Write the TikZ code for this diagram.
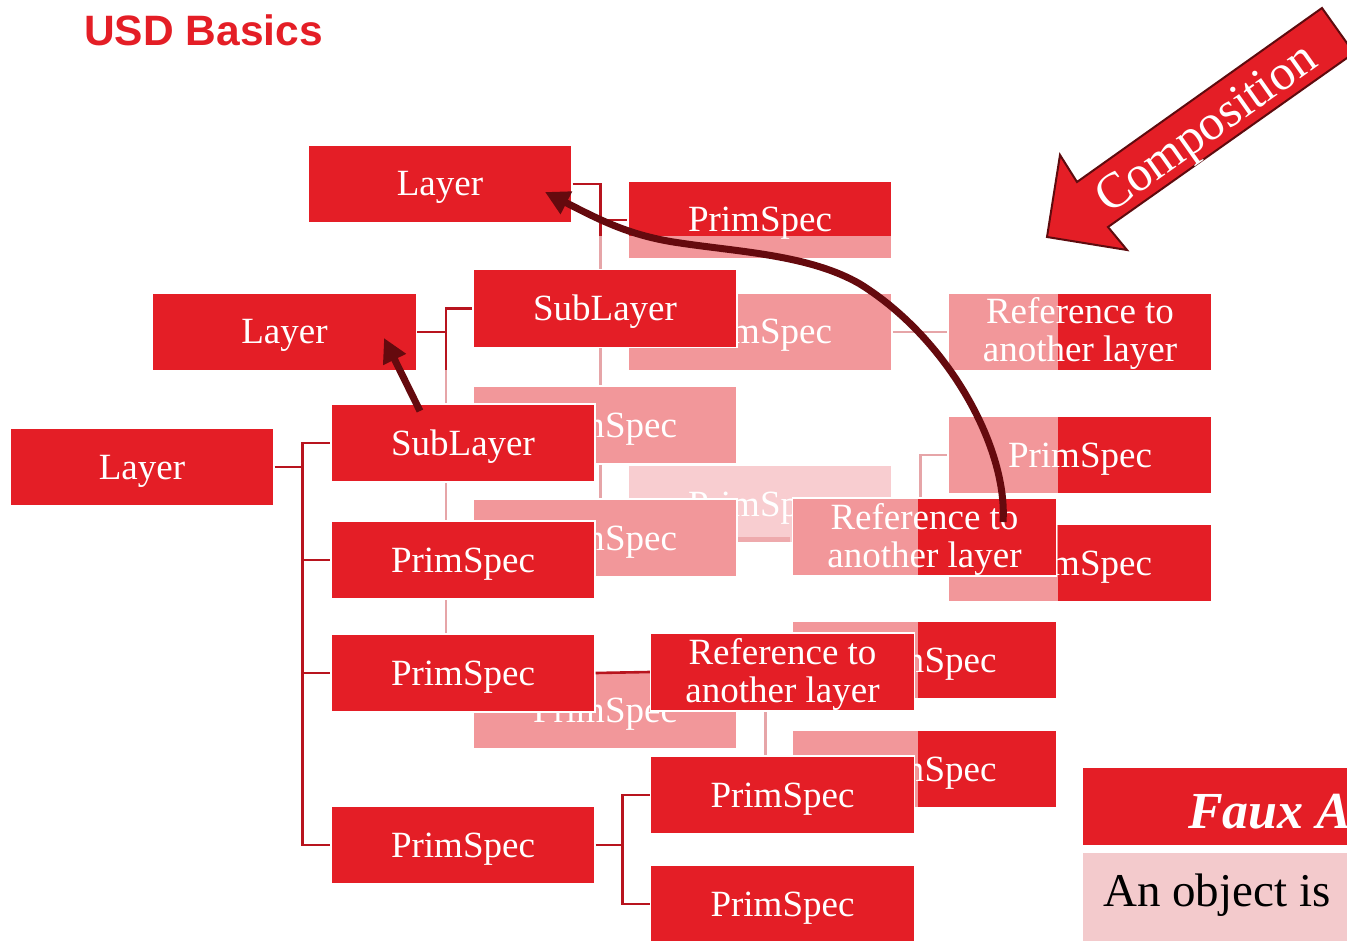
\documentclass[tikz,border=0pt]{standalone}
\usepackage{fontspec}
\setmainfont{Liberation Serif}
\newfontfamily\titlefont{Liberation Sans}
\usetikzlibrary{arrows.meta,calc}
\definecolor{boxred}{HTML}{E41E26}
\definecolor{boxpink}{HTML}{F2979A}
\definecolor{lightpink}{HTML}{F8CDD0}
\definecolor{stripc}{HTML}{EEAAAD}
\definecolor{fauxpink}{HTML}{F3CACC}
\definecolor{conred}{HTML}{B8141E}
\definecolor{conpink}{HTML}{E6A5A8}
\definecolor{maroon}{HTML}{650A0E}
\definecolor{arrowdark}{HTML}{5E0B0E}
\pgfdeclarelayer{bg}
\pgfsetlayers{bg,main}
\begin{document}
\begin{tikzpicture}[x=1pt,y=-1pt,
  bx/.style={minimum width=264pt, minimum height=78pt, inner sep=0pt, draw=white, line width=1.2pt, text=white, font=\fontsize{37}{38}\selectfont},
  one/.style={text height=24pt, text depth=0pt},
  two/.style={align=center, text height=64pt, text depth=4pt},
  rbox/.style={bx, fill=boxred},
  pbox/.style={bx, fill=boxpink},
  lbox/.style={bx, fill=lightpink, path picture={\fill[stripc] ($(path picture bounding box.south west)+(0,-6)$) rectangle ($(path picture bounding box.south west)+(162,0)$);}},
  splith/.style={bx, fill=boxpink, path picture={\fill[boxred] ($(path picture bounding box.north west)+(#1,0)$) rectangle (path picture bounding box.south east);}},
  splitv/.style={bx, fill=boxpink, path picture={\fill[boxred] (path picture bounding box.north west) rectangle ($(path picture bounding box.south east)+(0,-#1)$);}},
  cr/.style={draw=conred, line width=2.6pt},
  cp/.style={draw=conpink, line width=2.6pt},
  marr/.style={draw=maroon, line width=7pt, -{Triangle[length=24pt,width=24pt]}}
]
\useasboundingbox (0,0) rectangle (1347,941);
\clip (0,0) rectangle (1347,941);

% title
\node[anchor=base west, inner sep=0pt, text=boxred, font=\titlefont\bfseries\fontsize{42.5}{43}\selectfont] (title) at (84,46) {USD Basics};

% back boxes
\node[splitv=23, one] (PT) at (760,220) {PrimSpec};
\node[pbox, one] (PD) at (760,332) {PrimSpec};
\node[splith=110, two] (RR1) at (1080,332) {Reference to\\another layer};
\node[splith=110, one] (RP1) at (1080,455) {PrimSpec};
\node[splith=110, one] (RP2) at (1080,563) {PrimSpec};
\node[lbox, one] (LP) at (760,504) {PrimSpec};
\node[pbox, one] (PA) at (605,425) {PrimSpec};
\node[pbox, one] (PB) at (605,538) {PrimSpec};
\node[pbox, one] (PC) at (605,710) {PrimSpec};
\node[splith=125, one] (MR1) at (924.5,660) {PrimSpec};
\node[splith=125, one] (MR2) at (924.5,769) {PrimSpec};
\node[splith=125, two] (RM) at (924.5,537) {Reference to\\another layer};

% front boxes
\node[rbox, one] (L3) at (440,184) {Layer};
\node[rbox, one] (L2) at (284.5,332) {Layer};
\node[rbox, one] (SL2) at (605,308.5) {SubLayer};
\node[rbox, one] (L1) at (142,467) {Layer};
\node[rbox, one] (SL1) at (463,443) {SubLayer};
\node[rbox, one] (P1) at (463,560) {PrimSpec};
\node[rbox, one] (P2) at (463,673) {PrimSpec};
\node[rbox, two] (RL) at (782.5,672) {Reference to\\another layer};
\node[rbox, one] (P4) at (782.5,795) {PrimSpec};
\node[rbox, one] (P5) at (782.5,904) {PrimSpec};
\node[rbox, one] (P3) at (463,845) {PrimSpec};

% faded connectors behind the boxes
\begin{pgfonlayer}{bg}
\coordinate (b3) at ($(L3.east)+(28,0)$);
\coordinate (b2) at ($(L2.east)+(29,0)$);
\coordinate (b5) at ($(LP.east)+(28,0)$);
\coordinate (b6) at ($(PC.east)+(28,0)$);
\draw[cp] (b3) |- (PD.west);
\draw[cp] (b3) |- (LP.west);
\draw[cp] (b2) |- (PA.west);
\draw[cp] (b2) |- (PB.west);
\draw[cp] (b2) |- (PC.west);
\draw[cp] (PD.east) -- (RR1.west);
\draw[cp] (LP.east) -- (b5) |- (RP1.west);
\draw[cp] (b5) |- (RP2.west);
\draw[cp] (PB.east) -- (RM.west);
\draw[cp] (PC.east) -- (b6) |- (MR1.west);
\draw[cp] (b6) |- (MR2.west);
\end{pgfonlayer}

% solid connectors
\draw[cr] (L3.east) -- (b3) |- (PT.west);
\draw[cr] (b3) -- ++(0,52);
\draw[cr] (L2.east) -- (b2) |- (SL2.west);
\draw[cr] (b2) -- ++(0,38);
\coordinate (b1) at ($(L1.east)+(28,0)$);
\draw[cr] (L1.east) -- (b1) |- (SL1.west);
\draw[cr] (b1) |- (P1.west);
\draw[cr] (b1) |- (P2.west);
\draw[cr] (b1) |- (P3.west);
\draw[cr] (P2.east) -- (RL.west);
\coordinate (b4) at ($(P3.east)+(27,0)$);
\draw[cr] (P3.east) -- (b4) |- (P4.west);
\draw[cr] (b4) |- (P5.west);

% Faux box
\node[fill=boxred, minimum width=300pt, minimum height=77pt, inner sep=0pt, anchor=north west] (FH) at (1083,768) {};
\node[anchor=base west, inner sep=0pt, text=white, font=\bfseries\itshape\fontsize{52}{52}\selectfont] (FT) at (1188,828) {Faux A};
\node[fill=fauxpink, minimum width=300pt, minimum height=120pt, inner sep=0pt, anchor=north west] (FB) at (1083,853) {};
\node[anchor=base west, inner sep=0pt, text=black, font=\fontsize{47}{47}\selectfont] (FBT) at (1103,906) {An object is};

% Composition block arrow
\filldraw[fill=boxred, draw=arrowdark, line width=2pt, line join=miter] (1047,237) -- (1060,155) -- (1077,182) -- (1322,8) -- (1354,53) -- (1108,227) -- (1127,250) -- cycle;
\node[rotate=35.3, inner sep=0pt, text=white, font=\fontsize{50}{50}\selectfont] (comp) at (1208,131) {Composition};

% reference arrows
\coordinate (sa) at (420,411);
\coordinate (ta) at (384,338);
\draw[marr] (sa) -- (ta);
\coordinate (cs) at (1003,522);
\coordinate (ct) at (545,192);
\draw[marr] (cs) .. controls (1008,450) and (950,340) .. (860,284) .. controls (810,255) and (740,252) .. (680,243) .. controls (630,236) and (600,220) .. (ct);
\end{tikzpicture}
\end{document}
